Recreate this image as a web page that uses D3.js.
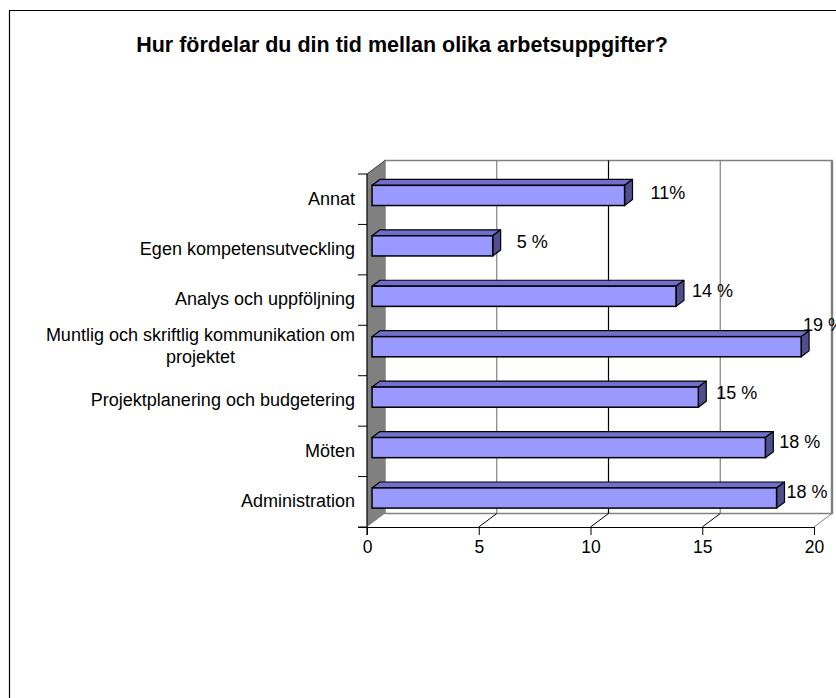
<!DOCTYPE html>
<html>
<head>
<meta charset="utf-8">
<script src="https://cdn.jsdelivr.net/npm/d3@7"></script>
<style>
  body { margin: 0; background: #fff; }
  text { font-family: "Liberation Sans", Arial, sans-serif; }
</style>
</head>
<body>
<svg id="chart" width="836" height="698"></svg>
<script>
// data, top to bottom as shown
const categories = [
  'Annat',
  'Egen kompetensutveckling',
  'Analys och uppföljning',
  'Muntlig och skriftlig kommunikation om projektet',
  'Projektplanering och budgetering',
  'Möten',
  'Administration'
];
const values = [11.3, 5.4, 13.6, 19.2, 14.6, 17.6, 18.1];
const valueLabels = ['11%', '5 %', '14 %', '19 %', '15 %', '18 %', '18 %'];
const xTicks = [0, 5, 10, 15, 20];

// label nudges (Excel puts the 3d labels a bit off)
const labelShift = [[12, -3], [10, -4], [2, -6], [-12, -22], [4, -4], [0, -6], [-4, -6]];

const svg = d3.select('#chart');

// frame
svg.append('path')
  .attr('d', 'M9.5,698 L9.5,10.5 L836,10.5')
  .attr('fill', 'none').attr('stroke', '#000').attr('stroke-width', 1.2);

svg.append('text')
  .attr('x', 402).attr('y', 52)
  .attr('text-anchor', 'middle')
  .attr('font-size', 21.5).attr('font-weight', 'bold')
  .text('Hur fördelar du din tid mellan olika arbetsuppgifter?');

// 3d depth vector
const DX = 18, DY = -13.5;
const x = d3.scaleLinear().domain([0, 20]).range([367, 814]);
const y = d3.scaleBand().domain(categories).range([174, 527])
  .paddingInner(0.6).paddingOuter(0.3);
const yTop = 174, yBot = 527;
const step = y.step();

const g = svg.append('g');

// left wall
g.append('path')
  .attr('d', `M${x(0)},${yTop} L${x(0) + DX},${yTop + DY} L${x(0) + DX},${yBot + DY} L${x(0)},${yBot} Z`)
  .attr('fill', '#808080').attr('stroke', 'none');

// back wall
g.append('rect')
  .attr('x', x(0) + DX).attr('y', yTop + DY)
  .attr('width', x(20) - x(0)).attr('height', yBot - yTop)
  .attr('fill', '#fff').attr('stroke', '#808080').attr('stroke-width', 1.5);
g.append('line')
  .attr('x1', x(20) + DX).attr('x2', x(20) + DX)
  .attr('y1', yTop + DY).attr('y2', yBot + DY)
  .attr('stroke', '#808080').attr('stroke-width', 2.5);

// gridlines on back wall
g.selectAll('.grid').data(xTicks.slice(1, -1)).join('line')
  .attr('class', 'grid')
  .attr('x1', d => x(d) + DX).attr('x2', d => x(d) + DX)
  .attr('y1', yTop + DY).attr('y2', yBot + DY)
  .attr('stroke', d => d === 10 ? '#000' : '#808080').attr('stroke-width', 1.2);

// floor
g.selectAll('.floorline').data(xTicks.slice(1)).join('line')
  .attr('class', 'floorline')
  .attr('x1', d => x(d) + DX).attr('y1', yBot + DY)
  .attr('x2', d => x(d)).attr('y2', yBot)
  .attr('stroke', d => d === 20 ? '#808080' : '#000').attr('stroke-width', 1);

// left wall edges
g.append('line')
  .attr('x1', x(0)).attr('y1', yTop).attr('x2', x(0) + DX).attr('y2', yTop + DY)
  .attr('stroke', '#333').attr('stroke-width', 1);

// category ticks
g.selectAll('.ctick').data(d3.range(categories.length + 1)).join('line')
  .attr('class', 'ctick')
  .attr('x1', x(0) - 9).attr('x2', x(0))
  .attr('y1', i => yTop + i * step).attr('y2', i => yTop + i * step)
  .attr('stroke', '#000').attr('stroke-width', 1);

// x axis (front)
const xAxis = d3.axisBottom(x).tickValues(xTicks).tickSize(8).tickPadding(6);
const ax = svg.append('g').attr('transform', `translate(0,${yBot})`).call(xAxis);
ax.select('.domain').attr('stroke', '#000').attr('stroke-width', 1.2)
  .attr('d', `M${x(0) - 9},0.5H${x(20)}`);
ax.selectAll('.tick line').attr('stroke', '#000');
ax.selectAll('.tick text').attr('font-size', 17.5).attr('fill', '#000')
  .attr('font-family', '"Liberation Sans", Arial, sans-serif');

// left axis line
g.append('line')
  .attr('x1', x(0)).attr('x2', x(0)).attr('y1', yTop).attr('y2', yBot + 8)
  .attr('stroke', '#000').attr('stroke-width', 1.2);

// bars
const f0 = 0.28, fd = 0.44;
const ox = DX * f0, oy = DY * f0;
const bx = DX * fd, by = DY * fd;
const bars = svg.append('g').selectAll('g').data(categories).join('g');
const bh = y.bandwidth();

bars.append('path') // top face
  .attr('d', (d, i) => {
    const x0 = x(0) + ox, x1 = x(values[i]) + ox, yy = y(d) + oy;
    return `M${x0},${yy} L${x0 + bx},${yy + by} L${x1 + bx},${yy + by} L${x1},${yy} Z`;
  })
  .attr('fill', '#7070cc').attr('stroke', '#000').attr('stroke-width', 1.2)
  .attr('stroke-linejoin', 'round');

bars.append('path') // end face
  .attr('d', (d, i) => {
    const x1 = x(values[i]) + ox, yy = y(d) + oy;
    return `M${x1},${yy} L${x1 + bx},${yy + by} L${x1 + bx},${yy + by + bh} L${x1},${yy + bh} Z`;
  })
  .attr('fill', '#4f4f8f').attr('stroke', '#000').attr('stroke-width', 1.2)
  .attr('stroke-linejoin', 'round');

bars.append('rect') // front face
  .attr('x', x(0) + ox).attr('y', d => y(d) + oy)
  .attr('width', (d, i) => x(values[i]) - x(0)).attr('height', bh)
  .attr('fill', '#9999ff').attr('stroke', '#000').attr('stroke-width', 1.5);

// value labels
bars.append('text')
  .attr('x', (d, i) => x(values[i]) + ox + bx + 6 + labelShift[i][0])
  .attr('y', (d, i) => y(d) + oy + bh / 2 + labelShift[i][1])
  .attr('dy', '0.35em')
  .attr('font-size', 18)
  .text((d, i) => valueLabels[i]);

// category labels, wrapped
const catLabels = svg.append('g').selectAll('text').data(categories).join('text')
  .attr('font-size', 18).attr('text-anchor', 'middle');

catLabels.each(function (d) {
  const t = d3.select(this);
  const words = d.split(' ');
  let lines = [], line = [];
  const probe = t.append('tspan');
  words.forEach(w => {
    probe.text([...line, w].join(' '));
    if (probe.node().getComputedTextLength() > 335 && line.length) {
      lines.push(line.join(' '));
      line = [w];
    } else line.push(w);
  });
  lines.push(line.join(' '));
  probe.remove();
  let maxW = 0;
  const spans = lines.map(l => {
    const s = t.append('tspan').text(l);
    maxW = Math.max(maxW, s.node().getComputedTextLength());
    return s;
  });
  const cx = 355 - maxW / 2;
  const cy = y(d) + bh / 2 - 1;
  const lh = 22;
  spans.forEach((s, k) => {
    s.attr('x', cx).attr('y', cy + (k - (lines.length - 1) / 2) * lh - (lines.length > 1 ? 4 : 0))
      .attr('dy', '0.35em');
  });
});
</script>
</body>
</html>
